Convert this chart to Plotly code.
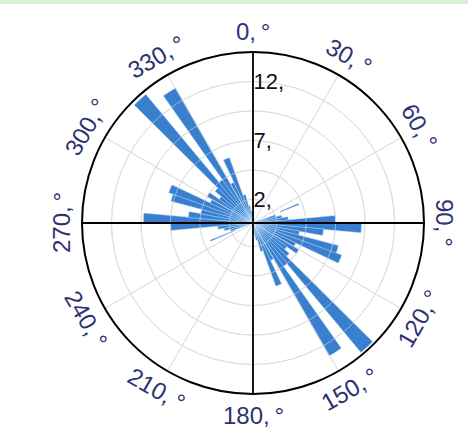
import numpy as np
import plotly.graph_objects as go

# Rose diagram: 5-degree direction bins (bin centres) and their counts
bin_centers = [2.5, 72.5, 77.5, 82.5, 87.5,
               92.5, 97.5, 102.5, 107.5, 112.5, 117.5, 122.5, 127.5, 132.5,
               137.5, 142.5, 147.5, 152.5, 157.5, 162.5, 167.5, 172.5, 177.5,
               182.5, 252.5, 257.5, 262.5, 267.5,
               272.5, 277.5, 282.5, 287.5, 292.5, 297.5, 302.5, 307.5, 312.5,
               317.5, 322.5, 327.5, 332.5, 337.5, 342.5, 347.5, 352.5, 357.5]
counts = [1.0, 2.0, 2.5, 3.0, 7.0,
          9.2, 6.0, 4.0, 7.5, 8.0, 4.0, 4.5, 3.5, 4.0,
          14.3, 4.5, 13.0, 3.5, 5.7, 2.5, 1.5, 1.0, 0.8,
          0.8, 2.0, 2.5, 3.0, 7.0,
          9.3, 5.5, 4.5, 7.2, 7.6, 4.0, 4.5, 3.5, 4.2,
          14.2, 4.5, 13.2, 3.8, 5.9, 2.5, 1.5, 1.0, 0.8]

# two isolated narrow segments
thin_dirs = [67.5, 247.5]
thin_base = [2.5, 1.6]
thin_len = [1.7, 2.3]

r_max = 14.5
radial_ticks = [2, 4.5, 7, 9.5, 12]
radial_text = ["2,", "", "7,", "", "12,"]
angle_ticks = list(range(0, 360, 30))
angle_text = [f"{a},\u2009°" for a in angle_ticks]

W, H = 468, 438
cx, cy, rad = 253, 223, 171   # polar centre / radius in px
label_r = 192

fig = go.Figure()

fig.add_trace(go.Barpolar(
    theta=bin_centers, r=counts, width=5.4,
    marker=dict(color="#3a7fcd", line=dict(color="#b8e0fa", width=0.5)),
))
fig.add_trace(go.Barpolar(
    theta=thin_dirs, r=thin_len, base=thin_base, width=1.6,
    marker=dict(color="#3a7fcd", line=dict(color="#b8e0fa", width=0.3)),
))

# light grid overlay that shows through the bars
ring_theta = np.arange(0, 361, 2)
for rv in radial_ticks:
    fig.add_trace(go.Scatterpolar(
        theta=ring_theta, r=[rv] * len(ring_theta), mode="lines",
        line=dict(color="rgba(255,255,255,0.45)", width=1),
        hoverinfo="skip"))
for a in angle_ticks:
    if a % 90:
        fig.add_trace(go.Scatterpolar(
            theta=[a, a], r=[0, r_max], mode="lines",
            line=dict(color="rgba(255,255,255,0.45)", width=1),
            hoverinfo="skip"))

# black crosshair through the centre
for a in (0, 90):
    fig.add_trace(go.Scatterpolar(
        theta=[a, a, a + 180], r=[r_max, 0, r_max], mode="lines",
        line=dict(color="black", width=1.8), hoverinfo="skip"))

# tangential direction labels
for a, txt in zip(angle_ticks, angle_text):
    t = np.deg2rad(a)
    px = cx + label_r * np.sin(t)
    py = cy - label_r * np.cos(t)
    if a <= 90:
        rot = a
    elif a < 270:
        rot = a - 180
    else:
        rot = a - 360
    fig.add_annotation(
        x=px / W, y=1 - py / H, xref="paper", yref="paper",
        text=txt, showarrow=False, textangle=rot,
        xanchor="center", yanchor="middle",
        font=dict(family="Liberation Sans, Arial", size=24, color="#2e3272"))

# thin strip along the top edge
fig.add_shape(type="rect", xref="paper", yref="paper",
              x0=0, x1=1, y0=1 - 4 / H, y1=1,
              fillcolor="#d6f3d2", line=dict(width=0), layer="below")

fig.update_layout(
    width=W, height=H,
    margin=dict(l=0, r=0, t=0, b=0),
    paper_bgcolor="white",
    showlegend=False,
    polar=dict(
        domain=dict(x=[(cx - rad) / W, (cx + rad) / W],
                    y=[1 - (cy + rad) / H, 1 - (cy - rad) / H]),
        bgcolor="white",
        bargap=0,
        angularaxis=dict(
            direction="clockwise", rotation=90,
            tickvals=angle_ticks, showticklabels=False, ticks="",
            showline=True, linecolor="black", linewidth=2,
            showgrid=True, gridcolor="#c2c2c2", gridwidth=1),
        radialaxis=dict(
            range=[0, r_max], angle=90, side="clockwise",
            tickvals=radial_ticks, ticktext=radial_text, ticks="",
            showline=False, showgrid=True, gridcolor="#c2c2c2", gridwidth=1,
            tickangle=90,
            tickfont=dict(family="Liberation Sans, Arial", size=22, color="#111111")),
    ),
)

fig.write_html("out.html")
